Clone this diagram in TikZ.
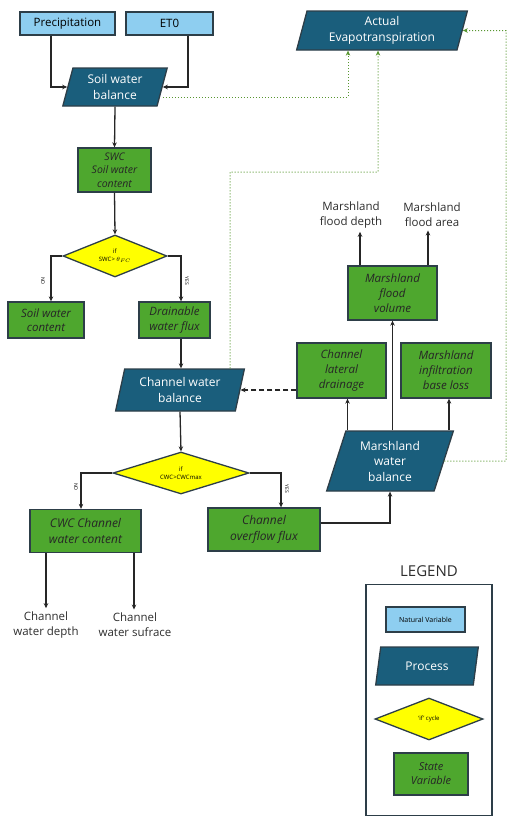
\documentclass[tikz,border=0pt]{standalone}
\usepackage{fontspec}
\setmainfont{Open Sans}
\usepackage{tikz}
\usetikzlibrary{shapes.geometric, arrows.meta}

\definecolor{natblue}{RGB}{142,206,240}
\definecolor{procblue}{RGB}{26,94,124}
\definecolor{stategreen}{RGB}{78,167,46}
\definecolor{ifyellow}{RGB}{255,255,0}
\definecolor{edgegray}{RGB}{45,62,72}
\definecolor{etgreen}{RGB}{88,150,48}
\definecolor{outgray}{RGB}{45,45,45}

\tikzset{
  natvar/.style={rectangle, draw=edgegray, line width=1.3pt, fill=natblue, inner sep=0pt, font=\fontsize{11.5}{13}\selectfont},
  procbox/.style={trapezium, trapezium left angle=75, trapezium right angle=105, trapezium stretches=true,
    draw=edgegray, line width=1.3pt, fill=procblue, text=white, align=center, inner sep=0pt, font=\fontsize{12}{15.5}\selectfont},
  statevar/.style={rectangle, draw=edgegray, line width=1.3pt, fill=stategreen, text=black!85, align=center,
    inner sep=0pt, font=\itshape\fontsize{10.5}{13.5}\selectfont},
  ifcycle/.style={diamond, aspect=2.5, draw=edgegray, line width=1.3pt, fill=ifyellow, align=center, inner sep=0pt,
    font=\fontsize{6}{7.5}\selectfont},
  outvar/.style={align=center, text=outgray, font=\fontsize{11.5}{15}\selectfont},
  branchlabel/.style={rotate=-90, font=\fontsize{5}{5}\selectfont},
  arrowline/.style={-{Stealth[length=5pt,width=4.5pt]}, line width=1.3pt, black!85},
  etline/.style={-{Stealth[length=5pt,width=4.5pt]}, line width=1pt, etgreen, dotted}
}

\begin{document}
\begin{tikzpicture}[x=1pt, y=-1pt]
            \useasboundingbox (0,0) rectangle (508,817);

            % inputs
            \node[natvar, minimum width=95pt, minimum height=23pt] (prec) at (67.5,23.5) {Precipitation};
            \node[natvar, minimum width=87pt, minimum height=23pt] (eto) at (169.5,23.5) {ET0};
            \node[procbox, minimum width=171pt, minimum height=39pt] (aet) at (382,30.5) {Actual\\Evapotranspiration};

            % soil
            \node[procbox, minimum width=105pt, minimum height=38pt] (swb) at (115,87) {Soil water\\balance};
            \node[statevar, minimum width=73pt, minimum height=44pt] (swc) at (114.5,170) {SWC\\Soil water\\content};
            \node[ifcycle, minimum width=104pt, minimum height=42pt] (ifswc) at (115,256) {if\\SWC> $\theta_{FC}$};
            \node[statevar, minimum width=76pt, minimum height=36pt, font=\itshape\fontsize{11.5}{14.5}\selectfont] (swcont) at (46,320) {Soil water\\content};
            \node[statevar, minimum width=71pt, minimum height=36pt, font=\itshape\fontsize{11.5}{14.5}\selectfont] (drain) at (174.5,320) {Drainable\\water flux};
            \node[branchlabel] (no1) at (43,281) {NO};
            \node[branchlabel] (yes1) at (187,281) {YES};
            \draw[arrowline] ([xshift=-16.5pt]prec.south) |- (swb.west);
            \draw[arrowline] ([xshift=18.5pt]eto.south) |- (swb.east);
            \draw[arrowline] (swb.south) -- (swc.north);
            \draw[arrowline] (swc.south) -- (ifswc.north);
            \draw[arrowline] (ifswc.west) -| ([xshift=5pt]swcont.north);
            \draw[arrowline] (ifswc.east) -| ([xshift=6.5pt]drain.north);

            % channel
            \node[procbox, minimum width=130pt, minimum height=42pt] (cwb) at (180,390) {Channel water\\balance};
            \node[ifcycle, minimum width=136pt, minimum height=42pt] (ifcwc) at (181,473) {if\\CWC>CWCmax};
            \node[statevar, minimum width=111pt, minimum height=43pt, font=\itshape\fontsize{12}{15.5}\selectfont] (cwc) at (85.5,531) {CWC Channel\\water content};
            \node[statevar, minimum width=112pt, minimum height=43pt, font=\itshape\fontsize{12}{15.5}\selectfont] (ovf) at (264,529.5) {Channel\\overflow flux};
            \node[branchlabel] (no2) at (76,487) {NO};
            \node[branchlabel] (yes2) at (287,489) {YES};
            \node[outvar] (cdepth) at (46,625) {Channel\\water depth};
            \node[outvar] (csurf) at (135,625) {Channel\\water sufrace};
            \draw[arrowline] ([xshift=6.5pt]drain.south) -- ([xshift=6.5pt]drain.south |- cwb.north);
            \draw[arrowline] (cwb.south) -- (ifcwc.north);
            \draw[arrowline] (ifcwc.west) -| ([xshift=-4.5pt]cwc.north);
            \draw[arrowline] (ifcwc.east) -| ([xshift=17pt]ovf.north);
            \draw[arrowline] ([xshift=-39.5pt]cwc.south) -- ([xshift=-39.5pt]cwc.south |- cdepth.north);
            \draw[arrowline] ([xshift=48.5pt]cwc.south) -- ([xshift=48.5pt]cwc.south |- csurf.north);

            % marshland
            \node[procbox, trapezium left angle=72, trapezium right angle=108, minimum width=127pt, minimum height=60pt] (mwb) at (390,461) {Marshland\\water\\balance};
            \node[statevar, minimum width=89pt, minimum height=55pt, font=\itshape\fontsize{11.5}{15}\selectfont] (lat) at (341.5,370.5) {Channel\\lateral\\drainage};
            \node[statevar, minimum width=90pt, minimum height=55pt, font=\itshape\fontsize{11.5}{15}\selectfont] (infil) at (446,370.5) {Marshland\\infiltration\\base loss};
            \node[statevar, minimum width=89pt, minimum height=54pt, font=\itshape\fontsize{11.5}{15}\selectfont] (vol) at (392.5,293) {Marshland\\flood\\volume};
            \node[outvar] (fdepth) at (351,215) {Marshland\\flood depth};
            \node[outvar] (farea) at (432,215) {Marshland\\flood area};
            \draw[arrowline] ([yshift=6.5pt]ovf.east) -| (mwb.south);
            \draw[arrowline] ([xshift=6pt]lat.south |- mwb.north) -- ([xshift=6pt]lat.south);
            \draw[arrowline] (vol.south |- mwb.north) -- (vol.south);
            \draw[arrowline] ([xshift=3pt]infil.south |- mwb.north) -- ([xshift=3pt]infil.south);
            \draw[arrowline] ([xshift=-32.5pt]vol.north) -- ([xshift=-32.5pt]vol.north |- fdepth.south);
            \draw[arrowline] ([xshift=35.5pt]vol.north) -- ([xshift=35.5pt]vol.north |- farea.south);
            \draw[arrowline, dashed, dash pattern=on 5pt off 3pt] (lat.west |- cwb.east) -- (cwb.east);

            % evapotranspiration feedback
            \coordinate (etbend) at (230,172);
            \coordinate (etcorner) at (506,30.5);
            \draw[etline] ([yshift=-10pt]swb.east) -| ([xshift=-34pt]aet.south);
            \draw[etline] ([xshift=50pt]cwb.north) -- (etbend) -| ([xshift=-4pt]aet.south);
            \draw[etline] (mwb.east) -| (etcorner) -- (aet.east);

            % legend
            \node[font=\fontsize{15}{18}\selectfont, text=outgray] (legtitle) at (429,571) {LEGEND};
            \node[draw=edgegray, line width=1.3pt, minimum width=126pt, minimum height=231pt] (legbox) at (429,700) {};
            \node[natvar, minimum width=79pt, minimum height=25pt, font=\fontsize{7}{8}\selectfont] (legnat) at (425.5,619.5) {Natural Variable};
            \node[procbox, minimum width=103pt, minimum height=38pt] (legproc) at (427,666) {Process};
            \node[ifcycle, minimum width=108pt, minimum height=42pt] (legif) at (429,719) {`if' cycle};
            \node[statevar, minimum width=74pt, minimum height=42pt, font=\itshape\fontsize{11}{14}\selectfont] (legstate) at (431,774) {State\\Variable};
        \end{tikzpicture}
\end{document}
